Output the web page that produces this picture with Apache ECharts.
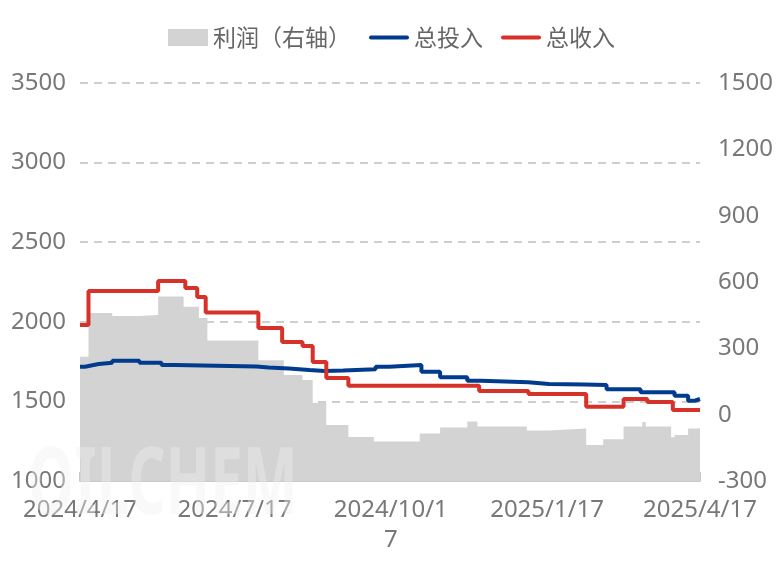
<!DOCTYPE html>
<html>
<head>
<meta charset="utf-8">
<script src="https://cdn.jsdelivr.net/npm/echarts@6/dist/echarts.min.js"></script>
<style>
html,body{margin:0;padding:0;background:#fff;}
#chart{width:783px;height:567px;}
</style>
</head>
<body>
<div id="chart"></div>
<script>
// ---- Data (change points of step series) ----
const seriesNames = ['利润（右轴）', '总投入', '总收入'];

// 利润 (right axis)
const profitDates = ['2024-04-17','2024-04-22','2024-05-06','2024-05-22','2024-06-02','2024-06-17','2024-06-26','2024-07-01',
  '2024-07-31','2024-08-15','2024-08-26','2024-09-01','2024-09-09','2024-09-22','2024-10-07','2024-11-03','2024-11-15',
  '2024-12-01','2024-12-07','2025-01-05','2025-01-18','2025-02-09','2025-02-19','2025-03-03','2025-03-14','2025-03-16',
  '2025-03-31','2025-04-02','2025-04-10','2025-04-17'];
const profitValues = [262,460,446,451,534,488,437,335,
  246,179,157,53,-47,-101,-121,-85,-58,
  -31,-54,-72,-63,-137,-111,-54,-33,-54,
  -102,-92,-62,-62];

// 总投入 (left axis)
const inputDates = ['2024-04-17','2024-04-20','2024-04-25','2024-04-28','2024-05-06','2024-05-22','2024-06-04','2024-06-12',
  '2024-07-30','2024-08-06','2024-08-18','2024-08-30','2024-09-08','2024-09-19','2024-10-08','2024-10-16','2024-11-04',
  '2024-11-15','2024-12-01','2024-12-09','2025-01-06','2025-01-18','2025-02-08','2025-02-21','2025-03-13','2025-04-02',
  '2025-04-10','2025-04-14','2025-04-17'];
const inputValues = [1718,1729,1735,1743,1756,1743,1729,1719,
  1713,1707,1697,1691,1694,1702,1718,1729,1687,
  1651,1630,1620,1609,1606,1603,1576,1557,1536,
  1504,1515,1515];

// 总收入 (left axis)
const incomeDates = ['2024-04-17','2024-04-22','2024-06-02','2024-06-18','2024-06-25','2024-06-30','2024-07-31','2024-08-14',
  '2024-08-26','2024-09-01','2024-09-09','2024-09-22','2024-12-08','2025-01-06','2025-02-09','2025-03-03','2025-03-17',
  '2025-04-01','2025-04-17'];
const incomeValues = [1980,2193,2256,2212,2156,2058,1961,1873,
  1848,1747,1647,1598,1565,1546,1467,1515,1496,
  1446,1446];

// Axis ticks / labels
const xTickDates = ['2024-04-17','2024-07-17','2024-10-17','2025-01-17','2025-04-17'];
const xTickLabels = ['2024/4/17','2024/7/17','2024/10/1\n7','2025/1/17','2025/4/17'];
const leftAxisRange = [1000, 3500, 500];
const rightAxisRange = [-300, 1500, 300];

// ---- Build: x axis measured in days since the first date ----
const DAY = 86400000;
const t0 = +echarts.time.parse(xTickDates[0]);
const dayOf = d => Math.round((+echarts.time.parse(d) - t0) / DAY);
const zip = (d, v) => d.map((x, i) => [dayOf(x), v[i]]);
const tickDays = xTickDates.map(dayOf);

const labelColor = '#787878';
const font = '"Noto Sans CJK SC", "Noto Sans", sans-serif';
const numFont = '"Noto Sans", sans-serif';
const lineIcon = 'path://M2,0H38A2,2 0 0 1 38,4H2A2,2 0 0 1 2,0Z';

const chart = echarts.init(document.getElementById('chart'), null, {renderer: 'canvas'});
chart.setOption({
  animation: false,
  backgroundColor: '#fff',
  textStyle: {fontFamily: font},
  legend: {
    top: 21,
    left: 'center',
    itemWidth: 40,
    itemHeight: 17,
    itemGap: 18,
    symbolKeepAspect: true,
    textStyle: {fontSize: 23, color: '#666', fontFamily: font},
    data: [
      {name: seriesNames[0], icon: 'rect'},
      {name: seriesNames[1], icon: lineIcon},
      {name: seriesNames[2], icon: lineIcon}
    ]
  },
  grid: {left: 80, right: 83, top: 83, bottom: 86, containLabel: false, outerBoundsMode: 'none'},
  xAxis: {
    type: 'value',
    min: tickDays[0],
    max: tickDays[tickDays.length - 1],
    axisLine: {show: true, onZero: false, lineStyle: {color: '#c8c8c8', width: 2}},
    axisTick: {show: true, inside: true, length: 9, customValues: tickDays, lineStyle: {color: '#c8c8c8', width: 2}},
    axisLabel: {
      customValues: tickDays,
      fontSize: 24, color: labelColor, margin: 14, lineHeight: 30,
      fontFamily: numFont,
      formatter: function (v) {
        const i = tickDays.indexOf(Math.round(v));
        return i >= 0 ? xTickLabels[i] : '';
      }
    },
    splitLine: {show: false}
  },
  yAxis: [
    {
      type: 'value',
      min: leftAxisRange[0], max: leftAxisRange[1], interval: leftAxisRange[2],
      axisLine: {show: false}, axisTick: {show: false},
      axisLabel: {fontSize: 24, color: labelColor, margin: 14, fontFamily: numFont, formatter: v => String(v)},
      splitLine: {show: true, lineStyle: {color: '#bfbfbf', type: [8, 6], width: 1.5}}
    },
    {
      type: 'value',
      min: rightAxisRange[0], max: rightAxisRange[1], interval: rightAxisRange[2],
      axisLine: {show: false}, axisTick: {show: false},
      axisLabel: {fontSize: 24, color: labelColor, margin: 18, fontFamily: numFont, formatter: v => String(v)},
      splitLine: {show: false}
    }
  ],
  series: [
    {
      name: seriesNames[0], type: 'line', yAxisIndex: 1, step: 'end',
      data: zip(profitDates, profitValues),
      symbol: 'none', color: '#d3d3d3',
      lineStyle: {width: 0, color: '#d3d3d3'},
      areaStyle: {color: '#d3d3d3', opacity: 1, origin: 'start'},
      z: 1
    },
    {
      name: seriesNames[1], type: 'line', yAxisIndex: 0, step: 'end',
      data: zip(inputDates, inputValues),
      symbol: 'none', color: '#003b8e',
      lineStyle: {width: 4, color: '#003b8e'},
      z: 2
    },
    {
      name: seriesNames[2], type: 'line', yAxisIndex: 0, step: 'end',
      data: zip(incomeDates, incomeValues),
      symbol: 'none', color: '#d7322a',
      lineStyle: {width: 4, color: '#d7322a'},
      z: 3
    }
  ],
  graphic: [{
    type: 'text', left: 28, top: 440, z: 100, silent: true,
    scaleX: 0.62,
    style: {text: 'OILCHEM', font: 'bold 94px "Noto Sans", sans-serif', fill: 'rgba(240,240,240,0.4)'}
  }]
});
</script>
</body>
</html>
